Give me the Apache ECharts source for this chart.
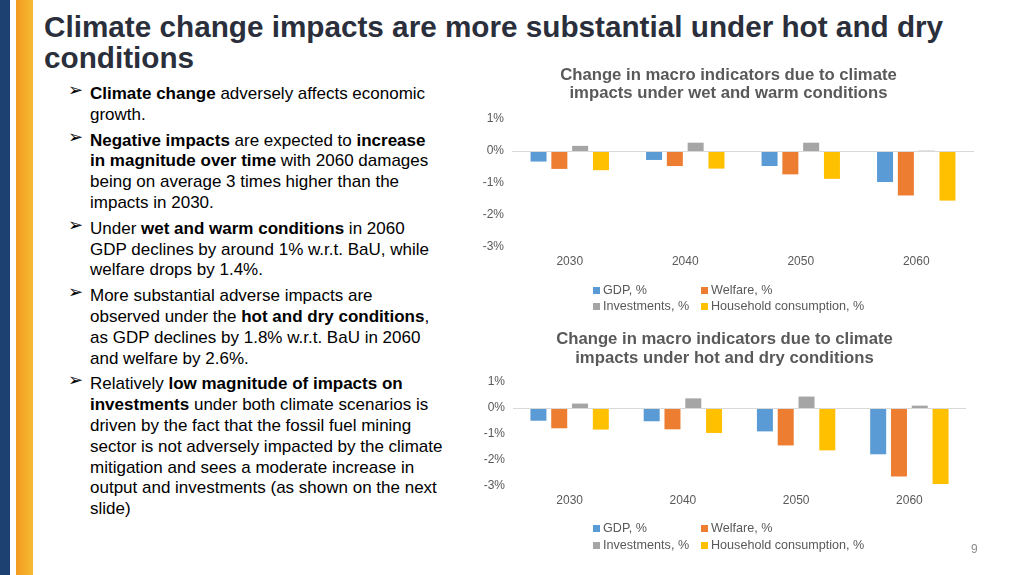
<!DOCTYPE html>
<html>
<head>
<meta charset="utf-8">
<title>Climate change impacts</title>
<script src="https://cdn.jsdelivr.net/npm/echarts@6/dist/echarts.min.js"></script>
<style>
  html, body { margin: 0; padding: 0; background: #fff; }
  body { width: 1024px; height: 575px; position: relative; overflow: hidden;
         font-family: "Liberation Sans", Arial, sans-serif; }
  .stripe-blue { position: absolute; left: 0; top: 0; width: 10px; height: 575px; background: #1d4272; }
  .stripe-orange { position: absolute; left: 16px; top: 0; width: 17px; height: 575px;
                   background: linear-gradient(to right, #f39a1e, #f6bb33); }
  h1 { position: absolute; left: 44px; top: 11px; margin: 0; font-size: 29.7px; line-height: 31px;
       font-weight: bold; color: #2a2f3b; width: 970px; white-space: nowrap; }
  ul { position: absolute; left: 68px; top: 84px; margin: 0; padding: 0; list-style: none; width: 400px; }
  li { position: relative; padding-left: 22px; font-size: 17px; line-height: 20.8px; color: #000;
       margin-bottom: 5px; white-space: nowrap; }
  li::before { content: "\27A2"; position: absolute; left: 0; top: -4px; font-size: 18px; }
  .chart { position: absolute; }
  #chart1 { left: 470px; top: 60px; width: 520px; height: 265px; }
  #chart2 { left: 470px; top: 325px; width: 520px; height: 245px; }
  .page { position: absolute; left: 971px; top: 542px; font-size: 12px; color: #8c8c8c; }
</style>
</head>
<body>
<div class="stripe-blue"></div>
<div class="stripe-orange"></div>
<h1>Climate change impacts are more substantial under hot and dry<br>conditions</h1>
<ul>
  <li><b>Climate change</b> adversely affects economic<br>growth.</li>
  <li><b>Negative impacts</b> are expected to <b>increase<br>in magnitude over time</b> with 2060 damages<br>being on average 3 times higher than the<br>impacts in 2030.</li>
  <li>Under <b>wet and warm conditions</b> in 2060<br>GDP declines by around 1% w.r.t. BaU, while<br>welfare drops by 1.4%.</li>
  <li>More substantial adverse impacts are<br>observed under the <b>hot and dry conditions</b>,<br>as GDP declines by 1.8% w.r.t. BaU in 2060<br>and welfare by 2.6%.</li>
  <li>Relatively <b>low magnitude of impacts on<br>investments</b> under both climate scenarios is<br>driven by the fact that the fossil fuel mining<br>sector is not adversely impacted by the climate<br>mitigation and sees a moderate increase in<br>output and investments (as shown on the next<br>slide)</li>
</ul>
<div id="chart1" class="chart"></div>
<div id="chart2" class="chart"></div>
<div class="page">9</div>

<script>
// 数据
var years = ["2030", "2040", "2050", "2060"];
var seriesNames = ["GDP, %", "Welfare, %", "Investments, %", "Household consumption, %"];
var yTicks = [-3, -2, -1, 0, 1];

// 湿暖情景
var wetGdp = [-0.33, -0.28, -0.47, -0.97];
var wetWelfare = [-0.56, -0.47, -0.73, -1.39];
var wetInvest = [0.16, 0.26, 0.26, 0.01];
var wetHousehold = [-0.60, -0.55, -0.87, -1.55];

// 干热情景
var dryGdp = [-0.49, -0.51, -0.90, -1.78];
var dryWelfare = [-0.78, -0.82, -1.44, -2.63];
var dryInvest = [0.17, 0.37, 0.44, 0.09];
var dryHousehold = [-0.83, -0.96, -1.63, -2.92];

var myColor = ["#5b9bd5", "#ed7d31", "#a5a5a5", "#ffc000"];
var textColor = "#595959";
var fontFamily = '"Liberation Sans", Arial, sans-serif';

function buildOption(cfg) {
  var data = cfg.data;
  var series = seriesNames.map(function (name, i) {
    var s = {
      name: name,
      type: "bar",
      data: data[i],
      barWidth: 16,
      barGap: "30%",
      itemStyle: { color: myColor[i] }
    };
    // 0% 参考线
    if (i === 0) {
      s.markLine = {
        silent: true,
        symbol: "none",
        label: { show: false },
        lineStyle: { color: "#d9d9d9", type: "solid", width: 1 },
        data: [{ yAxis: 0 }]
      };
    }
    return s;
  });
  var legendBase = {
    orient: "vertical",
    icon: "rect",
    itemWidth: 7,
    itemHeight: 7,
    itemGap: cfg.legendGap,
    top: cfg.legendTop,
    textStyle: { color: textColor, fontSize: 12.6, fontFamily: fontFamily, padding: [0, 0, 0, -2] }
  };
  return {
    animation: false,
    textStyle: { fontFamily: fontFamily },
    title: {
      text: cfg.title,
      left: cfg.titleLeft,
      top: cfg.titleTop,
      textAlign: "center",
      textStyle: { color: textColor, fontSize: 16.7, fontWeight: "bold", lineHeight: cfg.titleLine, fontFamily: fontFamily }
    },
    legend: [
      Object.assign({ left: 118, data: [seriesNames[0], seriesNames[2]] }, legendBase),
      Object.assign({ left: 226, data: [seriesNames[1], seriesNames[3]] }, legendBase)
    ],
    grid: {
      left: cfg.grid[0],
      top: cfg.grid[1],
      width: cfg.grid[2],
      height: cfg.grid[3]
    },
    xAxis: {
      type: "category",
      data: years,
      axisLine: { show: false, onZero: false },
      axisTick: { show: false },
      axisLabel: { color: textColor, fontSize: 12, margin: 9 }
    },
    yAxis: {
      type: "value",
      min: yTicks[0],
      max: yTicks[yTicks.length - 1],
      interval: 1,
      axisLine: { show: false },
      axisTick: { show: false },
      splitLine: { show: false },
      axisLabel: {
        color: textColor,
        fontSize: 12,
        margin: 8,
        formatter: function (v) { return v + "%"; }
      }
    },
    series: series
  };
}

// 上：湿暖情景
(function () {
  var myChart = echarts.init(document.getElementById("chart1"));
  myChart.setOption(buildOption({
    title: "Change in macro indicators due to climate\nimpacts under wet and warm conditions",
    titleLeft: 253.5,
    titleTop: 1,
    titleLine: 18,
    grid: [42, 59, 462, 128],
    legendTop: 219,
    legendGap: 3,
    data: [wetGdp, wetWelfare, wetInvest, wetHousehold]
  }));
  window.addEventListener("resize", function () { myChart.resize(); });
})();

// 下：干热情景
(function () {
  var myChart = echarts.init(document.getElementById("chart2"));
  myChart.setOption(buildOption({
    title: "Change in macro indicators due to climate\nimpacts under hot and dry conditions",
    titleLeft: 249.5,
    titleTop: 0,
    titleLine: 19,
    grid: [43, 57, 453, 104],
    legendTop: 192,
    legendGap: 4,
    data: [dryGdp, dryWelfare, dryInvest, dryHousehold]
  }));
  window.addEventListener("resize", function () { myChart.resize(); });
})();
</script>
</body>
</html>
